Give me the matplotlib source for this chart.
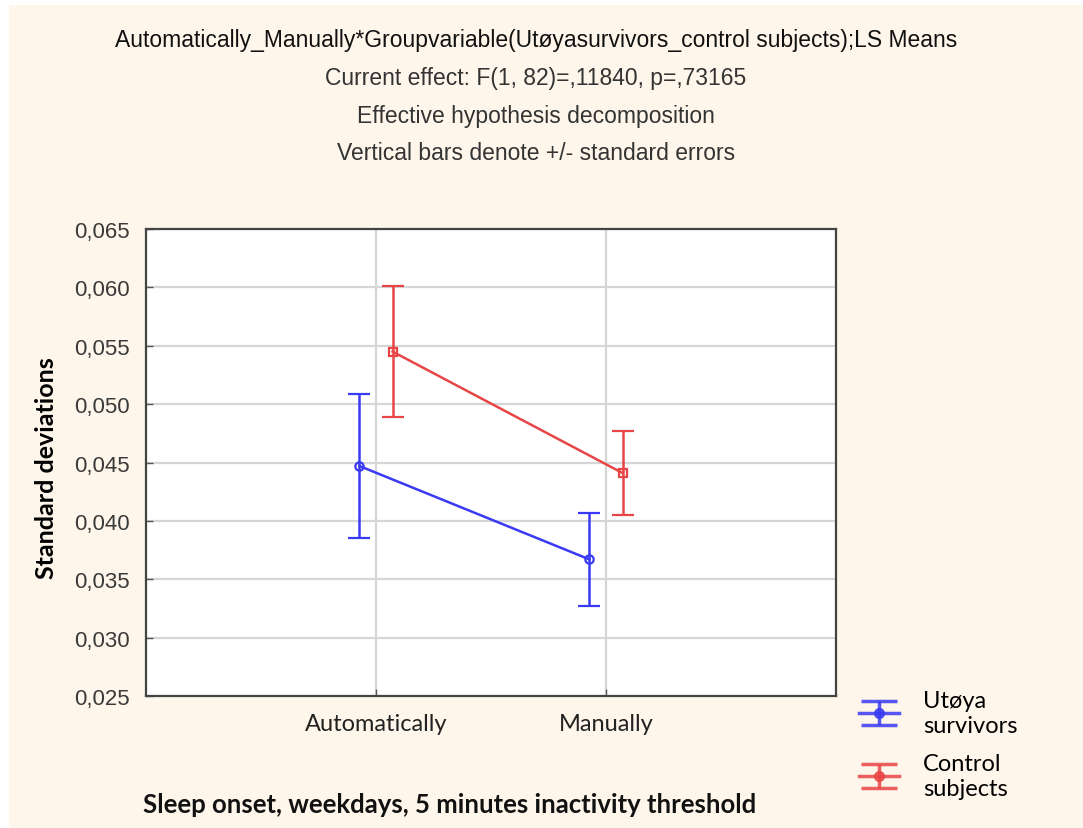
import matplotlib
matplotlib.use("Agg")
import matplotlib.pyplot as plt
import numpy as np
from matplotlib.patches import Rectangle

categories = ["Automatically", "Manually"]
groups = ["Utøya\nsurvivors", "Control\nsubjects"]
survivors_mean = [0.0447, 0.0367]
survivors_se = [0.0062, 0.0040]
control_mean = [0.0545, 0.0441]
control_se = [0.0056, 0.0036]
yticks = [0.025, 0.030, 0.035, 0.040, 0.045, 0.050, 0.055, 0.060, 0.065]

title_lines = [
    "Automatically_Manually*Groupvariable(Utøyasurvivors_control subjects);LS Means",
    "Current effect: F(1, 82)=,11840, p=,73165",
    "Effective hypothesis decomposition",
    "Vertical bars denote +/- standard errors",
]

BG = "#FEF6EA"
BLUE = "#3A3AF4"
RED = "#E84646"
narrow = ["Liberation Sans Narrow", "Liberation Sans", "DejaVu Sans"]
arial = ["Liberation Sans", "DejaVu Sans"]
cal = ["Lato", "DejaVu Sans"]

fig = plt.figure(figsize=(10.83, 8.29), dpi=100)
fig.patch.set_facecolor(BG)
fig.patches.append(Rectangle((0, 0), 9 / 1083, 1, transform=fig.transFigure, facecolor="white", edgecolor="none", zorder=-1))
fig.patches.append(Rectangle((0, 1 - 6 / 829), 1, 6 / 829, transform=fig.transFigure, facecolor="white", edgecolor="none", zorder=-1))

ax = fig.add_axes([146 / 1083, 1 - 697 / 829, 690 / 1083, 467 / 829])
ax.set_facecolor("white")

x = np.arange(len(categories))
off = 0.072
ax.errorbar(x - off, survivors_mean, yerr=survivors_se, color=BLUE, lw=1.8,
            marker="o", ms=6, mfc="none", mec=BLUE, mew=1.6,
            capsize=8, capthick=1.8, elinewidth=1.8, zorder=3)
ax.errorbar(x + off, control_mean, yerr=control_se, color=RED, lw=1.8,
            marker="s", ms=6, mfc="none", mec=RED, mew=1.6,
            capsize=8, capthick=1.8, elinewidth=1.8, zorder=3)

# legend proxies (filled dot, wide caps)
p1 = ax.errorbar([np.nan], [np.nan], yerr=[np.nan], color=BLUE, lw=2.5, marker="o", ms=7,
                 capsize=13, capthick=2.5, elinewidth=2.5, alpha=0.85)
p2 = ax.errorbar([np.nan], [np.nan], yerr=[np.nan], color=RED, lw=2.5, marker="o", ms=7,
                 capsize=13, capthick=2.5, elinewidth=2.5, alpha=0.85)

ax.set_xlim(-1, 2)
ax.set_ylim(0.025, 0.065)
ax.set_xticks(x)
ax.set_xticklabels(categories, fontsize=17, family=cal, color="#222222")
ax.set_yticks(yticks)
ax.set_yticklabels([f"{v:.3f}".replace(".", ",") for v in yticks], fontsize=16,
                   family=arial, color="#3a3a3a")
ax.tick_params(axis="both", direction="in", length=5, color="#555555", width=1)
ax.tick_params(axis="x", pad=12)
ax.tick_params(axis="y", pad=12)
ax.grid(True, color="#d6d6d6", lw=1.6)
ax.set_axisbelow(True)
for s in ax.spines.values():
    s.set_color("#444444")
    s.set_linewidth(1.6)

ax.set_ylabel("Standard deviations", fontsize=18, fontweight="bold", family=cal)
ax.yaxis.set_label_coords(-0.127, 0.49)
fig.text(450 / 1083, 1 - 805 / 829, "Sleep onset, weekdays, 5 minutes inactivity threshold",
         fontsize=18.5, fontweight="bold", family=cal, ha="center", va="center", color="#111111")

ys = [40, 78, 116, 154]
colors = ["#111111", "#333333", "#333333", "#333333"]
for t, yy, c in zip(title_lines, ys, colors):
    fig.text(536 / 1083, 1 - yy / 829, t, fontsize=16.5, family=narrow, ha="center", va="center", color=c)

leg = fig.legend([p1, p2], groups, loc="upper left", bbox_to_anchor=(838 / 1083, 1 - 670 / 829),
                 frameon=False, prop={"family": cal, "size": 17},
                 handlelength=1.7, labelspacing=0.75, handletextpad=1.0)

fig.savefig("out.png", dpi=100, facecolor=fig.get_facecolor())
